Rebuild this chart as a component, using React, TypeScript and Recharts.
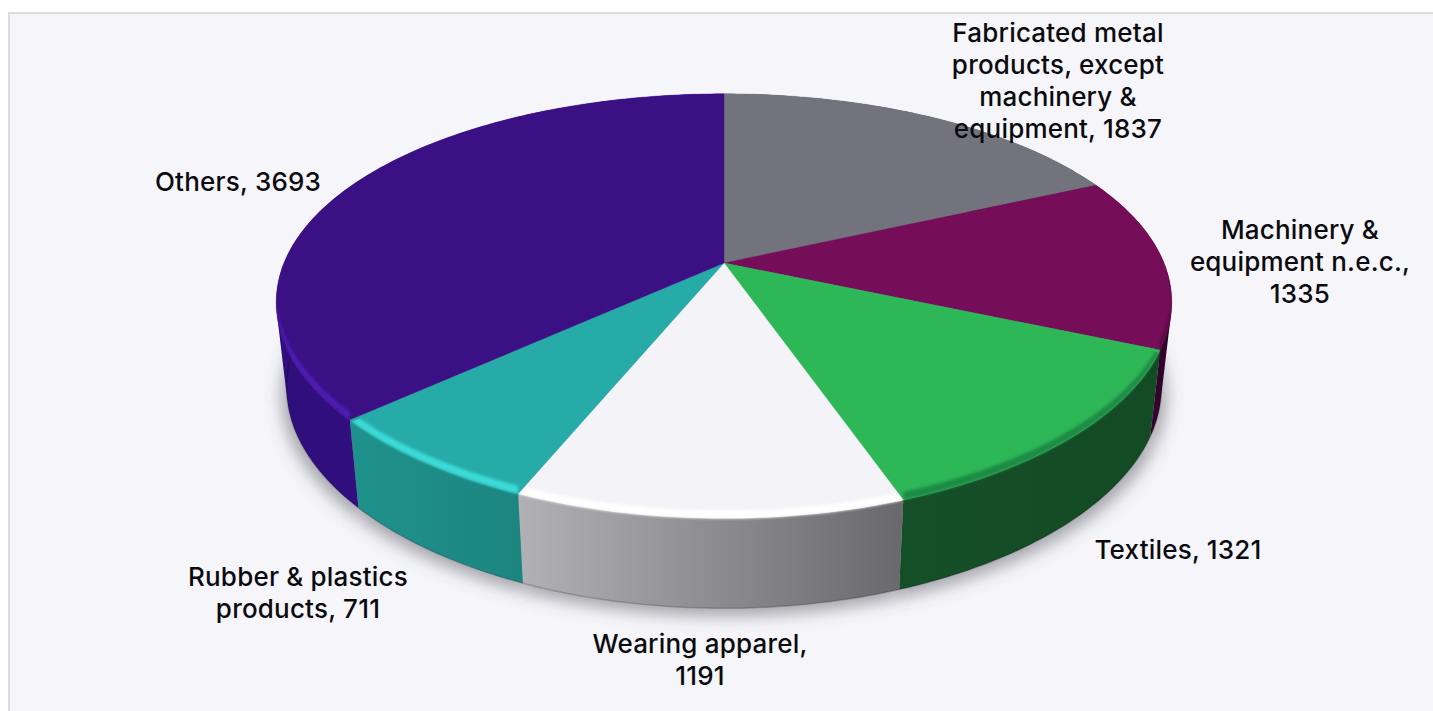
import { PieChart, Pie } from 'recharts'

const categories = [
  'Fabricated metal products, except machinery & equipment',
  'Machinery & equipment n.e.c.',
  'Textiles',
  'Wearing apparel',
  'Rubber & plastics products',
  'Others',
]
const values = [1837, 1335, 1321, 1191, 711, 3693]

const labelLines = [
  ['Fabricated metal', 'products, except', 'machinery &', 'equipment, 1837'],
  ['Machinery &', 'equipment n.e.c.,', '1335'],
  ['Textiles, 1321'],
  ['Wearing apparel,', '1191'],
  ['Rubber & plastics', 'products, 711'],
  ['Others, 3693'],
]

const chartData = categories.map((name, i) => ({ name, value: values[i] }))

const W = 1433
const H = 711
const CX = 724
const CY = 263
const RADIUS = 440

// label centre of first line, in chart pixels
const LABEL_X = [1058, 1300, 1178, 700, 298, 238]
const LABEL_Y = [33, 230, 550, 644, 577, 182]
const LINE_H = 32

const TOP_COLORS = ['#72737d', '#750d59', '#2db757', '#f3f3f8', '#27aba9', '#3c1085']
const WALL_FROM = ['#4a4b52', '#4a0a3c', '#154f27', '#b2b1b5', '#1f918c', '#2f0e7c']
const WALL_TO = ['#4a4b52', '#2e0329', '#134a24', '#69686d', '#1d8580', '#36108a']
const RIM_COLORS = [null, '#4a0839', '#1f8a44', '#ffffff', '#3bdcd8', '#4e1eb4']

// perspective of the tilted disc
const TILT = 0.4625
const KY = 0.203
const KX = 0.185
const BOTTOM_SCALE = 0.977
const BOTTOM_DY = 85
const BOTTOM_TILT = 0.4715
const RIM_HEIGHT = 8

type Pt = [number, number]

function project(cx: number, cy: number, r: number, deg: number): Pt {
  const a = (deg * Math.PI) / 180
  const X = Math.cos(a)
  const Y = -Math.sin(a)
  return [cx + (r * X) / (1 - KX * Y), cy + (r * TILT * Y) / (1 - KY * Y)]
}

function projectBottom(cx: number, cy: number, r: number, deg: number): Pt {
  const a = (deg * Math.PI) / 180
  const X = Math.cos(a)
  const Y = -Math.sin(a)
  return [cx + (BOTTOM_SCALE * r * X) / (1 - KX * Y), cy + BOTTOM_DY + (r * BOTTOM_TILT * Y) / (1 - KY * Y)]
}

function arcAngles(start: number, end: number) {
  const n = Math.max(2, Math.ceil(Math.abs(end - start)))
  return Array.from({ length: n + 1 }, (_, i) => start + ((end - start) * i) / n)
}

const toPath = (pts: Pt[]) =>
  pts.map((p, i) => `${i ? 'L' : 'M'}${p[0].toFixed(2)},${p[1].toFixed(2)}`).join('') + 'Z'

function TopFace(props: any) {
  const { cx, cy, outerRadius: r, startAngle, endAngle, index } = props
  const angles = arcAngles(startAngle, endAngle)
  const fill = TOP_COLORS[index]
  const rim = RIM_COLORS[index]
  const rimAngles = angles.filter((d) => -Math.sin((d * Math.PI) / 180) > 0.05)
  const arc = angles.map((d) => project(cx, cy, r, d))
  const face = [[cx, cy] as Pt, ...arc]
  // the rim's blur stays inside its own slice, with a little spill onto the wall
  const clip = [[cx, cy] as Pt, ...arc.map((p) => [p[0], p[1] + 3] as Pt)]
  return (
    <g>
      <path d={toPath(face)} fill={fill} stroke={fill} strokeWidth={0.4} />
      {rim && rimAngles.length > 1 && (
        <g>
          <clipPath id={`rimClip${index}`}>
            <path d={toPath(clip)} />
          </clipPath>
          <g clipPath={`url(#rimClip${index})`}>
            <path
              d={toPath([
                ...rimAngles.map((d) => {
                  const p = project(cx, cy, r, d)
                  return [p[0], p[1] - RIM_HEIGHT] as Pt
                }),
                ...[...rimAngles].reverse().map((d) => project(cx, cy, r, d)),
              ])}
              fill={rim}
              filter="url(#rimBlur)"
            />
          </g>
        </g>
      )}
    </g>
  )
}

function Wall(props: any) {
  const { cx, cy, outerRadius: r, startAngle, endAngle, index } = props
  const angles = arcAngles(startAngle, endAngle)
  const top = angles.map((d) => project(cx, cy, r, d))
  const bottom = angles.map((d) => projectBottom(cx, cy, r, d))
  // strips between the two rims, all wound the same way so the silhouette fills
  const strips = angles.slice(1).map((_, i) => {
    const quad: Pt[] = [top[i], top[i + 1], bottom[i + 1], bottom[i]]
    const area = quad.reduce((s, p, j) => {
      const q = quad[(j + 1) % 4]
      return s + p[0] * q[1] - q[0] * p[1]
    }, 0)
    return toPath(area < 0 ? [...quad].reverse() : quad)
  })
  const edge = bottom.map((p, i) => `${i ? 'L' : 'M'}${p[0].toFixed(2)},${p[1].toFixed(2)}`).join('')
  return (
    <g>
      <path d={strips.join('')} fill={`url(#wall${index})`} />
      <path d={edge} fill="none" stroke="#000" strokeOpacity={0.18} strokeWidth={1.5} />
    </g>
  )
}

function Shadow(props: any) {
  const { cx, cy, outerRadius: r, startAngle, endAngle } = props
  const angles = arcAngles(startAngle, endAngle)
  const pts = [
    [cx, cy + BOTTOM_DY + 8] as Pt,
    ...angles.map((d) => {
      const p = projectBottom(cx, cy, r, d)
      return [p[0] + (p[0] - cx) * 0.012, p[1] + 8] as Pt
    }),
  ]
  return <path d={toPath(pts)} fill="#55555f" fillOpacity={0.5} filter="url(#shadowBlur)" />
}

function renderLabel(props: any) {
  const { index } = props
  return (
    <text
      key={index}
      x={LABEL_X[index]}
      y={LABEL_Y[index]}
      textAnchor="middle"
      fill="#0b0b0f"
      fontSize={26}
      fontWeight={500}
      letterSpacing={0.2}
      fontFamily="Inter, sans-serif"
    >
      {labelLines[index].map((line, i) => (
        <tspan key={line} x={LABEL_X[index]} y={LABEL_Y[index] + i * LINE_H} dy="0.35em">
          {line}
        </tspan>
      ))}
    </text>
  )
}

const pieProps = {
  data: chartData,
  dataKey: 'value',
  nameKey: 'name',
  cx: CX,
  cy: CY,
  innerRadius: 0,
  outerRadius: RADIUS,
  startAngle: 90,
  endAngle: -270,
  stroke: 'none',
  isAnimationActive: false,
}

export default function App() {
  return (
    <div style={{ position: 'absolute', left: 0, top: 0, width: W, height: H, background: '#fff', overflow: 'hidden' }}>
      <div
        style={{
          position: 'absolute',
          left: 8,
          top: 12,
          right: 0,
          bottom: 0,
          background: '#f5f5fa',
          borderLeft: '2px solid #dddddd',
          borderTop: '2px solid #dddddd',
        }}
      />
      <div style={{ position: 'absolute', left: 0, top: 0 }}>
        <PieChart width={W} height={H} margin={{ top: 0, right: 0, bottom: 0, left: 0 }}>
          <defs>
            <filter id="rimBlur" x="-5%" y="-30%" width="110%" height="160%">
              <feGaussianBlur stdDeviation="1.8" />
            </filter>
            <filter id="shadowBlur" x="-15%" y="-15%" width="130%" height="130%">
              <feGaussianBlur stdDeviation="8" />
            </filter>
            {TOP_COLORS.map((_, i) => (
              <linearGradient key={i} id={`wall${i}`} x1="0" y1="0" x2="1" y2="0">
                <stop offset="0%" stopColor={WALL_FROM[i]} />
                <stop offset="100%" stopColor={WALL_TO[i]} />
              </linearGradient>
            ))}
          </defs>
          <Pie {...pieProps} shape={Shadow} inactiveShape={Shadow} />
          <Pie {...pieProps} shape={Wall} inactiveShape={Wall} />
          <Pie {...pieProps} shape={TopFace} inactiveShape={TopFace} label={renderLabel} labelLine={false} />
        </PieChart>
      </div>
    </div>
  )
}
